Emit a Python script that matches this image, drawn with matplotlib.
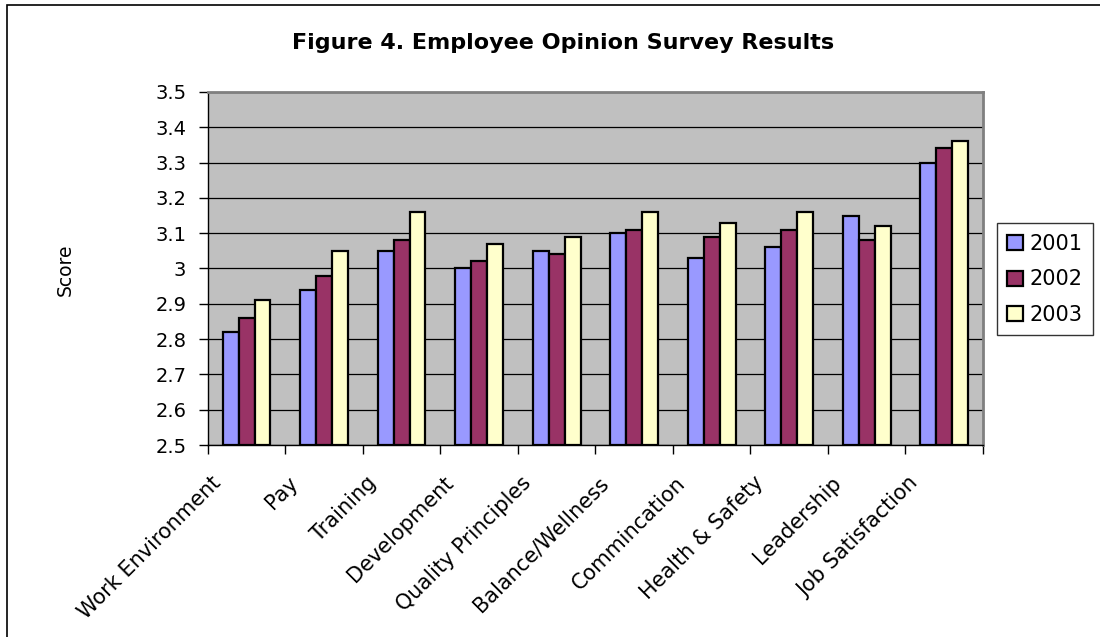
import numpy as np
import matplotlib.pyplot as plt
from matplotlib.patches import Rectangle
from matplotlib.transforms import ScaledTranslation

# ---------------------------
# Data
# ---------------------------
categories = ["Work Environment", "Pay", "Training", "Development",
              "Quality Principles", "Balance/Wellness", "Commincation",
              "Health & Safety", "Leadership", "Job Satisfaction"]
years = ["2001", "2002", "2003"]
score_2001 = [2.82, 2.94, 3.05, 3.00, 3.05, 3.10, 3.03, 3.06, 3.15, 3.30]
score_2002 = [2.86, 2.98, 3.08, 3.02, 3.04, 3.11, 3.09, 3.11, 3.08, 3.34]
score_2003 = [2.91, 3.05, 3.16, 3.07, 3.09, 3.16, 3.13, 3.16, 3.12, 3.36]
yticks = [2.5, 2.6, 2.7, 2.8, 2.9, 3.0, 3.1, 3.2, 3.3, 3.4, 3.5]
ytick_labels = ["2.5", "2.6", "2.7", "2.8", "2.9", "3", "3.1", "3.2", "3.3", "3.4", "3.5"]

colors = ["#9999FF", "#993366", "#FFFFCC"]

plt.rcParams['font.family'] = ['DejaVu Sans']

# ---------------------------
# Figure
# ---------------------------
fig = plt.figure(figsize=(11, 6.37), dpi=100)
ax = fig.add_axes([0.189, 0.3014, 0.7046, 0.5542])
ax.set_facecolor("#C0C0C0")

x = np.arange(len(categories))
w = 0.205
series = [score_2001, score_2002, score_2003]
for i, vals in enumerate(series):
    ax.bar(x + (i - 1) * w, np.array(vals) - 2.5, width=w, bottom=2.5,
           color=colors[i], edgecolor="black", linewidth=1.6,
           label=years[i], zorder=3)

ax.set_ylim(2.5, 3.5)
ax.set_xlim(-0.5, len(categories) - 0.5)
ax.set_yticks(yticks)
ax.set_yticklabels(ytick_labels, fontsize=14)
ax.yaxis.grid(True, color="black", linewidth=0.9, zorder=1)
ax.set_axisbelow(True)
ax.tick_params(axis="y", direction="out", length=6.5, width=1, pad=9)

# category labels left of centres, tick marks at boundaries
ax.set_xticks(x)
ax.set_xticklabels(categories, rotation=45, ha="right", va="top",
                   rotation_mode="anchor", fontsize=15)
ax.tick_params(axis="x", which="major", length=0, pad=20)
shift = ScaledTranslation(-0.36, 0, fig.dpi_scale_trans)
for lab in ax.get_xticklabels():
    lab.set_transform(lab.get_transform() + shift)
ax.set_xticks(np.arange(len(categories) + 1) - 0.5, minor=True)
ax.tick_params(axis="x", which="minor", direction="out", length=6.5, width=1)

for s in ["left", "bottom"]:
    ax.spines[s].set_color("black")
    ax.spines[s].set_linewidth(1.0)
for s in ["top", "right"]:
    ax.spines[s].set_color("#808080")
    ax.spines[s].set_linewidth(2.0)

fig.text(65 / 1100, 0.576, "Score", rotation=90, ha="center", va="center",
         fontsize=13.5)

fig.text(0.512, 0.932, "Figure 4. Employee Opinion Survey Results",
         ha="center", va="center", fontsize=16, fontweight="bold")

leg = ax.legend(loc="center left", bbox_to_anchor=(1.018, 0.469),
                fontsize=15, frameon=True, fancybox=False,
                handlelength=0.75, handleheight=0.75, handletextpad=0.3,
                labelspacing=0.75, borderpad=0.5, borderaxespad=0)
leg.get_frame().set_edgecolor("black")
leg.get_frame().set_linewidth(1.0)

# outer chart border (runs past the right and bottom edges)
fig.patches.append(Rectangle((0.006, -0.05), 1.1, 1.042, transform=fig.transFigure,
                             fill=False, edgecolor="black", linewidth=1.2))

fig.savefig("out.png", dpi=100)
